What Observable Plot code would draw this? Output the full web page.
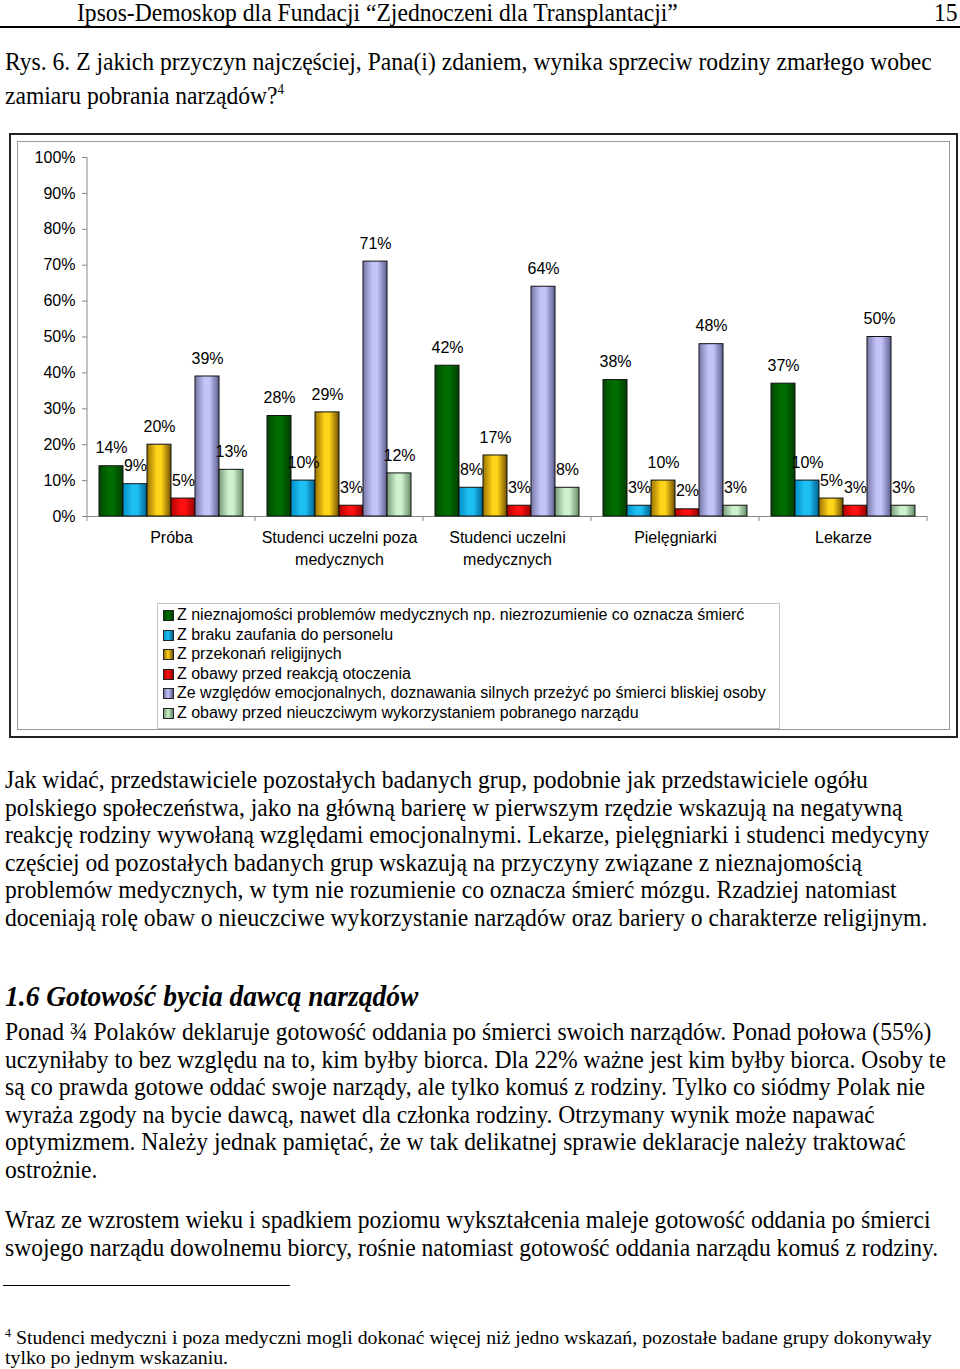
<!DOCTYPE html>
<html><head><meta charset="utf-8">
<script src="https://cdn.jsdelivr.net/npm/d3@7"></script>
<script src="https://cdn.jsdelivr.net/npm/@observablehq/plot@0.6"></script>
<style>
html,body{margin:0;padding:0;background:#fff}
body{width:960px;height:1369px;position:relative;overflow:hidden;font-family:"Liberation Serif","Times New Roman",serif;color:#000}
.l{position:absolute;left:5px;white-space:nowrap;font-size:23.6px;line-height:24px;transform-origin:0 0;transform:scaleY(1.07)}
#hdrline{position:absolute;left:0;top:26px;width:960px;height:0;border-top:2px solid #000}
#outer{position:absolute;left:9px;top:133px;width:949px;height:605px;border:2px solid #222;box-sizing:border-box}
#inner{position:absolute;left:17px;top:141px;width:933px;height:589px;border:1px solid #999;box-sizing:border-box}
#chart{position:absolute;left:20px;top:140px}
#legend{position:absolute;left:157px;top:603px;width:623px;height:126px;border:1px solid #c4c4c4;box-sizing:border-box;font-family:"Liberation Sans",Arial,sans-serif;font-size:16px;padding-top:1px}
#legend .it{height:19.6px;line-height:19.6px;white-space:nowrap;position:relative;padding-left:19px}
#legend .sw{position:absolute;left:5px;top:5px;width:9px;height:9px;border:1px solid #222}
#fnrule{position:absolute;left:3px;top:1285px;width:287px;border-top:1px solid #000}
.fn{position:absolute;left:5px;white-space:nowrap;font-size:19.8px;line-height:20px}
</style></head>
<body>
<svg width="0" height="0" style="position:absolute">
<defs id="gdefs"></defs>
</svg>
<div class="l" style="left:77px;top:0px">Ipsos-Demoskop dla Fundacji “Zjednoczeni dla Transplantacji”</div>
<div class="l" style="left:934px;top:0px">15</div>
<div id="hdrline"></div>
<div class="l" style="top:49px">Rys. 6. Z jakich przyczyn najczęściej, Pana(i) zdaniem, wynika sprzeciw rodziny zmarłego wobec</div>
<div class="l" style="top:77px">zamiaru pobrania narządów?<sup style="font-size:13px;vertical-align:9px">4</sup></div>
<div id="outer"></div>
<div id="inner"></div>
<div id="chart"></div>
<div id="legend"></div>
<div id="text"></div>
<div id="fnrule"></div>
<div class="fn" style="top:1323px"><sup style="font-size:12px;vertical-align:7px">4</sup> Studenci medyczni i poza medyczni mogli dokonać więcej niż jedno wskazań, pozostałe badane grupy dokonywały</div>
<div class="fn" style="top:1347px">tylko po jednym wskazaniu.</div>
<script>
// ---- data ----
const groups = ["Próba ogólnopolska", "Studenci uczelni poza medycznych", "Studenci uczelni medycznych", "Pielęgniarki", "Lekarze"];
const groupTickLabels = ["Próba", "Studenci uczelni poza\nmedycznych", "Studenci uczelni\nmedycznych", "Pielęgniarki", "Lekarze"];
const series = [
  "Z nieznajomości problemów medycznych np. niezrozumienie co oznacza śmierć",
  "Z braku zaufania do personelu",
  "Z przekonań religijnych",
  "Z obawy przed reakcją otoczenia",
  "Ze względów emocjonalnych, doznawania silnych przeżyć po śmierci bliskiej osoby",
  "Z obawy przed nieuczciwym wykorzystaniem pobranego narządu"
];
const valuesNieznajomosc = [14, 28, 42, 38, 37];
const valuesBrakZaufania = [9, 10, 8, 3, 10];
const valuesReligia = [20, 29, 17, 10, 5];
const valuesOtoczenie = [5, 3, 3, 2, 3];
const valuesEmocje = [39, 71, 64, 48, 50];
const valuesNieuczciwosc = [13, 12, 8, 3, 3];
const yTicks = [0, 10, 20, 30, 40, 50, 60, 70, 80, 90, 100];
// gradient stops per series: [edgeLeft, mid, edgeRight]
const seriesGradients = [
  ["#004800", "#006e00", "#003c00"],
  ["#0090c8", "#1ec0f4", "#005f8c"],
  ["#9a7400", "#ffd21a", "#6e5000"],
  ["#b00000", "#ff1010", "#900000"],
  ["#7878a8", "#c4c4fa", "#5c5c8c"],
  ["#7a9c7a", "#cdf2cd", "#668866"]
];

const seriesValues = [valuesNieznajomosc, valuesBrakZaufania, valuesReligia, valuesOtoczenie, valuesEmocje, valuesNieuczciwosc];
const rows = [];
groups.forEach((g, gi) => series.forEach((s, si) => rows.push({group: g, series: s, value: seriesValues[si][gi]})));

// gradients
const defs = document.getElementById("gdefs");
const gradIds = seriesGradients.map((c, i) => {
  const id = "grad" + i;
  defs.insertAdjacentHTML("beforeend",
    `<linearGradient id="${id}" x1="0" x2="1" y1="0" y2="0">
      <stop offset="0" stop-color="${c[0]}"/><stop offset="0.4" stop-color="${c[1]}"/>
      <stop offset="0.6" stop-color="${c[1]}"/><stop offset="1" stop-color="${c[2]}"/></linearGradient>`);
  return `url(#${id})`;
});

const chart = Plot.plot({
  width: 920, height: 440,
  marginLeft: 67, marginRight: 13, marginTop: 17, marginBottom: 64,
  style: {fontFamily: "'Liberation Sans', Arial, sans-serif", fontSize: "16px", color: "#000", background: "transparent", overflow: "visible"},
  fx: {domain: groups, paddingInner: 0, paddingOuter: 0, label: null},
  x: {domain: series, paddingInner: 0, paddingOuter: 0.43, axis: null},
  y: {domain: [0, 100], label: null, axis: null},
  color: {domain: series, range: gradIds},
  marks: [
    Plot.axisY({ticks: yTicks, tickFormat: d => d + "%", tickSize: 5, tickPadding: 7, stroke: "#888", fill: "#000", label: null, fontSize: 16}),
    Plot.axisFx({anchor: "bottom", tickSize: 0, tickPadding: 11, lineHeight: 1.375, fontSize: 16, fill: "#000",
      tickFormat: d => groupTickLabels[groups.indexOf(d)], label: null}),
    Plot.ruleY([0], {stroke: "#888"}),
    Plot.barY(rows, {fx: "group", x: "series", y: "value", fill: "series", stroke: "#111", strokeWidth: 1}),
    Plot.text(rows, {fx: "group", x: "series", y: "value", text: d => d.value + "%", dy: -18, fontSize: 16, fill: "#000"})
  ]
});
document.getElementById("chart").appendChild(chart);

// axis line & group boundary ticks derived from scales
const fxs = chart.scale("fx"), ys = chart.scale("y");
const svg = d3.select(chart);
const x0 = fxs.apply(groups[0]);
const bounds = groups.map(g => fxs.apply(g)).concat([fxs.apply(groups[groups.length - 1]) + fxs.bandwidth]);
svg.append("line").attr("x1", x0).attr("x2", x0).attr("y1", ys.apply(100)).attr("y2", ys.apply(0)).attr("stroke", "#888");
bounds.forEach(b => svg.append("line").attr("x1", b).attr("x2", b).attr("y1", ys.apply(0)).attr("y2", ys.apply(0) + 5).attr("stroke", "#888"));

// legend
const lg = document.getElementById("legend");
series.forEach((s, i) => {
  const c = seriesGradients[i];
  lg.insertAdjacentHTML("beforeend",
    `<div class="it"><span class="sw" style="background:linear-gradient(90deg,${c[0]},${c[1]} 45%,${c[2]})"></span>${s}</div>`);
});

// body text
const paragraphs = [
  {top: 767, lines: [
    "Jak widać, przedstawiciele pozostałych badanych grup, podobnie jak przedstawiciele ogółu",
    "polskiego społeczeństwa, jako na główną barierę w pierwszym rzędzie wskazują na negatywną",
    "reakcję rodziny wywołaną względami emocjonalnymi. Lekarze, pielęgniarki i studenci medycyny",
    "częściej od pozostałych badanych grup wskazują na przyczyny związane z nieznajomością",
    "problemów medycznych, w tym nie rozumienie co oznacza śmierć mózgu. Rzadziej natomiast",
    "doceniają rolę obaw o nieuczciwe wykorzystanie narządów oraz bariery o charakterze religijnym."]},
  {top: 1019, lines: [
    "Ponad ¾ Polaków deklaruje gotowość oddania po śmierci swoich narządów. Ponad połowa (55%)",
    "uczyniłaby to bez względu na to, kim byłby biorca. Dla 22% ważne jest kim byłby biorca. Osoby te",
    "są co prawda gotowe oddać swoje narządy, ale tylko komuś z rodziny. Tylko co siódmy Polak nie",
    "wyraża zgody na bycie dawcą, nawet dla członka rodziny. Otrzymany wynik może napawać",
    "optymizmem. Należy jednak pamiętać, że w tak delikatnej sprawie deklaracje należy traktować",
    "ostrożnie."]},
  {top: 1207, lines: [
    "Wraz ze wzrostem wieku i spadkiem poziomu wykształcenia maleje gotowość oddania po śmierci",
    "swojego narządu dowolnemu biorcy, rośnie natomiast gotowość oddania narządu komuś z rodziny."]}
];
const txt = document.getElementById("text");
paragraphs.forEach(p => p.lines.forEach((ln, i) => {
  const d = document.createElement("div");
  d.className = "l"; d.style.top = (p.top + i * 27.5) + "px"; d.textContent = ln;
  txt.appendChild(d);
}));
const h = document.createElement("div");
h.className = "l"; h.style.top = "981px"; h.style.fontSize = "27.5px"; h.style.lineHeight = "28px"; h.style.fontWeight = "bold"; h.style.fontStyle = "italic";
h.textContent = "1.6 Gotowość bycia dawcą narządów";
txt.appendChild(h);
</script>
</body></html>
